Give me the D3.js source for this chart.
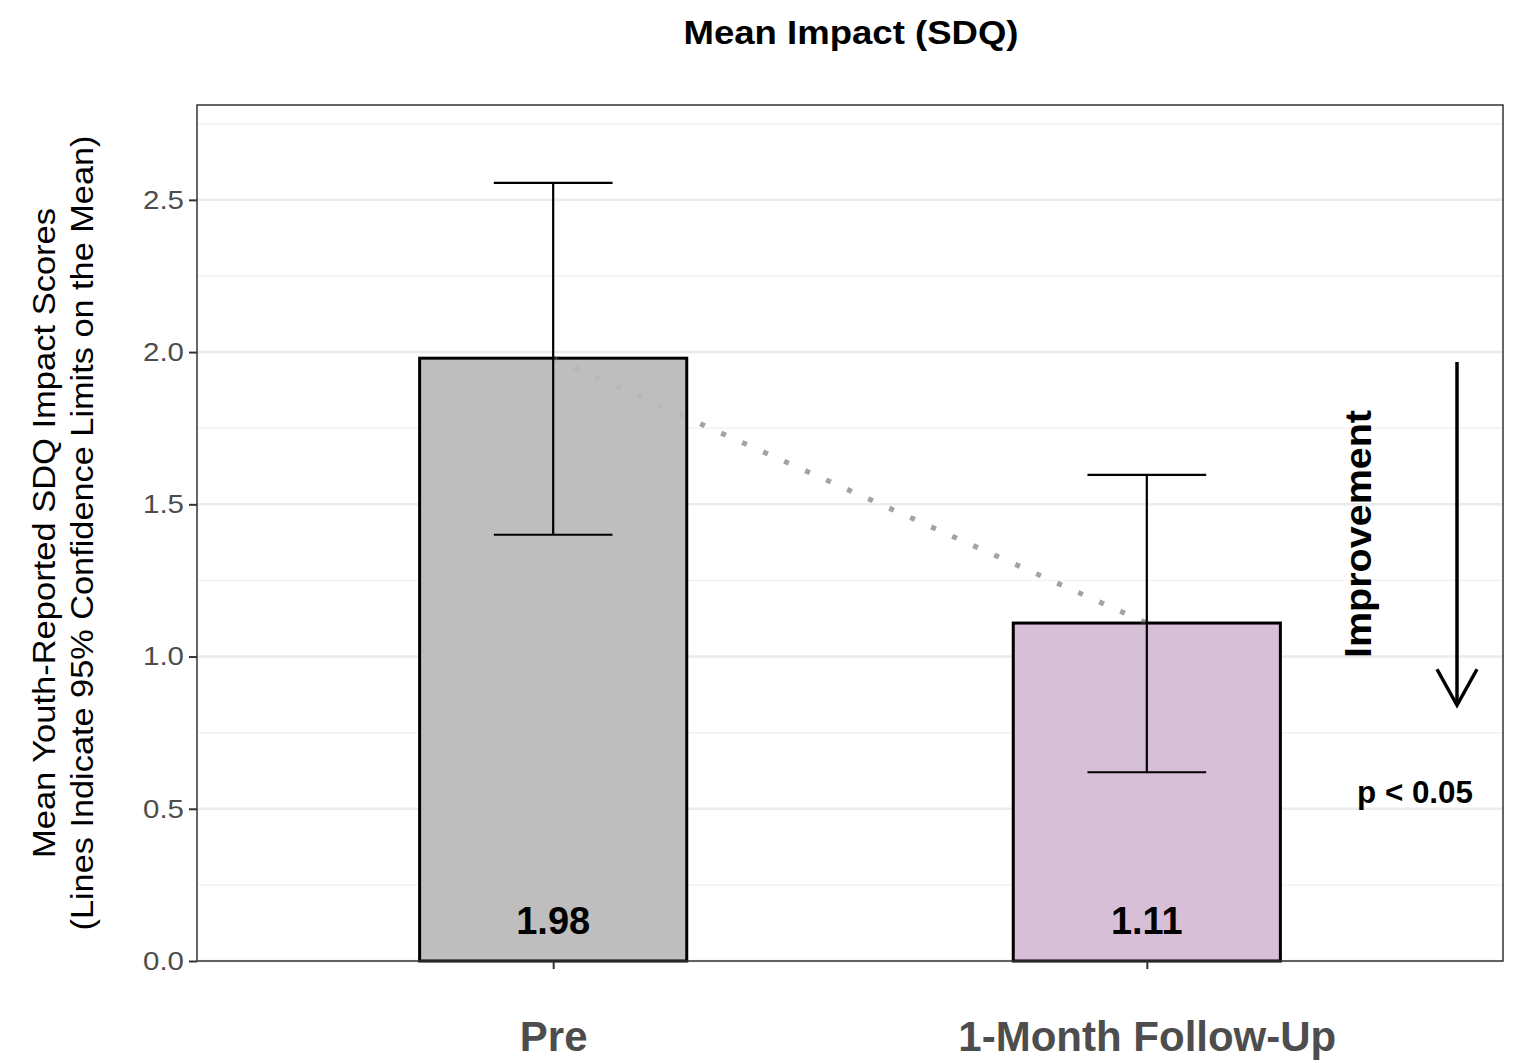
<!DOCTYPE html>
<html>
<head>
<meta charset="utf-8">
<script src="https://cdn.jsdelivr.net/npm/d3@7"></script>
<style>
  body { margin: 0; background: #fff; }
  text { font-family: "Liberation Sans", Arial, sans-serif; }
</style>
</head>
<body>
<div id="chart"></div>
<script>
// data
const groups = ["Pre", "1-Month Follow-Up"];
const means = [1.98, 1.11];
const lower = [1.40, 0.62];
const upper = [2.556, 1.597];
const fills = ["#bebebe", "#d8bfd8"];
const yTicks = [0, 0.5, 1.0, 1.5, 2.0, 2.5];
const yMinor = [0.25, 0.75, 1.25, 1.75, 2.25, 2.75];

const W = 1521, H = 1063;
const margin = { top: 105, right: 18, bottom: 102, left: 197 };
const width = W - margin.left - margin.right;
const height = H - margin.top - margin.bottom;

const svg = d3.select("#chart").append("svg")
  .attr("width", W).attr("height", H);

// title
svg.append("text")
  .attr("x", 851).attr("y", 44)
  .attr("text-anchor", "middle")
  .attr("font-size", 34).attr("font-weight", "bold")
  .attr("textLength", 335).attr("lengthAdjust", "spacingAndGlyphs")
  .text("Mean Impact (SDQ)");

const g = svg.append("g")
  .attr("transform", "translate(" + margin.left + "," + margin.top + ")");

// ggplot-like discrete scale: 0.6 units padding each side, bar width 0.45
const x = d3.scaleLinear().domain([0.4, groups.length + 0.6]).range([0, width]);
const y = d3.scaleLinear().domain([0, d3.max(upper) * 1.1]).range([height, 0]);

// grid
g.selectAll(".minor").data(yMinor).enter().append("line")
  .attr("x1", 0).attr("x2", width)
  .attr("y1", d => y(d)).attr("y2", d => y(d))
  .attr("stroke", "#f2f2f2").attr("stroke-width", 1.5);
g.selectAll(".major").data(yTicks).enter().append("line")
  .attr("x1", 0).attr("x2", width)
  .attr("y1", d => y(d)).attr("y2", d => y(d))
  .attr("stroke", "#ebebeb").attr("stroke-width", 2.5);

// dotted connector between means
function connector(op) {
  g.append("line")
    .attr("x1", x(1)).attr("y1", y(means[0]))
    .attr("x2", x(2)).attr("y2", y(means[1]))
    .attr("stroke", "#a3a3a3").attr("stroke-width", 5)
    .attr("stroke-dasharray", "5 18")
    .attr("opacity", op);
}
connector(1);

// bars
const bw = x(1.45) - x(1);
g.selectAll(".bar").data(means).enter().append("rect")
  .attr("x", (d, i) => x(i + 1) - bw / 2)
  .attr("width", bw)
  .attr("y", d => y(d))
  .attr("height", d => y(0) - y(d))
  .attr("fill", (d, i) => fills[i])
  .attr("stroke", "#000").attr("stroke-width", 3);

// faint pass over the bars
connector(0.25);

// error bars
const cap = x(1.2) - x(1);
groups.forEach((gname, i) => {
  const cx = x(i + 1);
  const eb = g.append("g").attr("stroke", "#000").attr("stroke-width", 2.2);
  eb.append("line").attr("x1", cx).attr("x2", cx).attr("y1", y(lower[i])).attr("y2", y(upper[i]));
  eb.append("line").attr("x1", cx - cap / 2).attr("x2", cx + cap / 2).attr("y1", y(upper[i])).attr("y2", y(upper[i]));
  eb.append("line").attr("x1", cx - cap / 2).attr("x2", cx + cap / 2).attr("y1", y(lower[i])).attr("y2", y(lower[i]));
});

// value labels
g.selectAll(".val").data(means).enter().append("text")
  .attr("x", (d, i) => x(i + 1))
  .attr("y", y(0) - 27)
  .attr("text-anchor", "middle")
  .attr("font-size", 38).attr("font-weight", "bold")
  .text(d => d.toFixed(2));

// panel border
g.append("rect")
  .attr("x", 0).attr("y", 0).attr("width", width).attr("height", height)
  .attr("fill", "none").attr("stroke", "#333").attr("stroke-width", 1.5);

// y axis
const yAxis = g.append("g")
  .call(d3.axisLeft(y).tickValues(yTicks).tickFormat(d3.format(".1f")).tickSize(8).tickPadding(5));
yAxis.select(".domain").remove();
yAxis.selectAll(".tick line").attr("stroke", "#333").attr("stroke-width", 2);
yAxis.selectAll(".tick text")
  .attr("fill", "#4d4d4d").attr("font-size", 26)
  .attr("textLength", 41).attr("lengthAdjust", "spacingAndGlyphs")
  .attr("font-family", "'Liberation Sans', Arial, sans-serif");

// x axis
const xAxis = g.append("g").attr("transform", "translate(0," + height + ")")
  .call(d3.axisBottom(x).tickValues([1, 2]).tickFormat(d => groups[d - 1]).tickSize(8).tickPadding(52));
xAxis.select(".domain").remove();
xAxis.selectAll(".tick line").attr("stroke", "#333").attr("stroke-width", 2);
xAxis.selectAll(".tick text")
  .attr("fill", "#4d4d4d").attr("font-size", 42).attr("font-weight", "bold")
  .attr("font-family", "'Liberation Sans', Arial, sans-serif");

// y axis title
const yt = svg.append("g").attr("transform", "translate(0," + 533 + ") rotate(-90)");
yt.append("text")
  .attr("x", 0).attr("y", 55)
  .attr("text-anchor", "middle").attr("font-size", 31)
  .attr("textLength", 650).attr("lengthAdjust", "spacingAndGlyphs")
  .text("Mean Youth-Reported SDQ Impact Scores");
yt.append("text")
  .attr("x", 0).attr("y", 93)
  .attr("text-anchor", "middle").attr("font-size", 31)
  .attr("textLength", 795).attr("lengthAdjust", "spacingAndGlyphs")
  .text("(Lines Indicate 95% Confidence Limits on the Mean)");

// improvement annotation
const ax = 1457 - margin.left;
const ay1 = y(2.0) + 10, ay2 = y(0.84);
g.append("line")
  .attr("x1", ax).attr("x2", ax).attr("y1", ay1).attr("y2", ay2)
  .attr("stroke", "#000").attr("stroke-width", 3.5);
g.append("path")
  .attr("d", "M" + (ax - 20) + "," + (ay2 - 36) + "L" + ax + "," + ay2 + "L" + (ax + 20) + "," + (ay2 - 36))
  .attr("fill", "none").attr("stroke", "#000").attr("stroke-width", 3.5);

svg.append("g").attr("transform", "translate(1371,534) rotate(-90)")
  .append("text")
  .attr("text-anchor", "middle").attr("font-size", 36).attr("font-weight", "bold")
  .attr("textLength", 248).attr("lengthAdjust", "spacingAndGlyphs")
  .text("Improvement");

svg.append("text")
  .attr("x", 1415).attr("y", 803)
  .attr("text-anchor", "middle").attr("font-size", 31).attr("font-weight", "bold")
  .attr("textLength", 116).attr("lengthAdjust", "spacingAndGlyphs")
  .text("p < 0.05");
</script>
</body>
</html>
